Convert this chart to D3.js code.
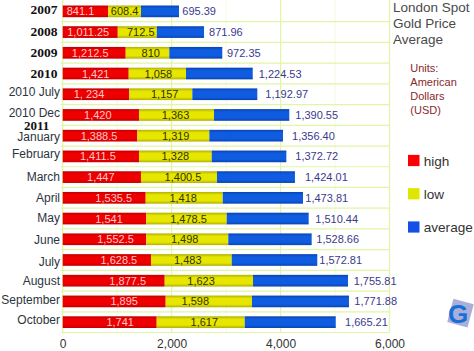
<!DOCTYPE html>
<html>
<head>
<meta charset="utf-8">
<title>London Spot Gold Price Average</title>
<script src="https://d3js.org/d3.v7.min.js"></script>
<style>
  html, body { margin: 0; padding: 0; background: #fff; }
  svg { display: block; }
  text { font-family: "Liberation Sans", Arial, sans-serif; }
</style>
</head>
<body>
<div id="chart"></div>
<script>
var width = 474, height = 351;
var margin = {top: 1, left: 62.7, bottom: 332.5};

var categories = ["2007", "2008", "2009", "2010", "2010 July", "2010 Dec", "January", "February",
  "March", "April", "May", "June", "July", "August", "September", "October"];
var boldCategories = ["2007", "2008", "2009", "2010"];
// bar lengths as drawn in the picture, they do not always agree with the printed labels
var high = [837, 1011, 1157, 1212, 1223, 1401, 1370, 1401, 1437, 1524, 1535, 1535, 1621, 1873, 1891, 1726];
var low = [600, 716, 800, 1052, 1157, 1377, 1322, 1335, 1395, 1414, 1476, 1505, 1482, 1621, 1584, 1616];
var average = [698, 868, 973, 1225, 1193, 1382, 1353, 1370, 1432, 1474, 1505, 1531, 1571, 1744, 1781, 1671];
var highLabels = ["841.1", "1,011.25", "1,212.5", "1,421", "1, 234", "1,420", "1,388.5", "1,411.5", "1,447", "1,535.5", "1,541", "1,552.5", "1,628.5", "1,877.5", "1,895", "1,741"];
var lowLabels = ["608.4", "712.5", "810", "1,058", "1,157", "1,363", "1,319", "1,328", "1,400.5", "1,418", "1,478.5", "1,498", "1,483", "1,623", "1,598", "1,617"];
var averageLabels = ["695.39", "871.96", "972.35", "1,224.53", "1,192.97", "1,390.55", "1,356.40", "1,372.72", "1,424.01", "1,473.81", "1,510.44", "1,528.66", "1,572.81", "1,755.81", "1,771.88", "1,665.21"];
var xTicks = [0, 2000, 4000, 6000];
var titleLines = ["London Spot", "Gold Price", "Average"];
var unitLines = ["Units:", "American", "Dollars", "(USD)"];
var legendNames = ["high", "low", "average"];

var svg = d3.select("#chart").append("svg")
  .attr("width", width)
  .attr("height", height);

var x = d3.scaleLinear().domain([0, 6000]).range([margin.left, 389.5]);
var y = d3.scaleBand().domain(categories).range([margin.top, margin.bottom]);
var bh = 11.7;

// bar gradients, edges a bit darker like the original
var defs = svg.append("defs");
function gradient(id, edge, mid) {
  var g = defs.append("linearGradient").attr("id", id).attr("x1", 0).attr("x2", 0).attr("y1", 0).attr("y2", 1);
  g.append("stop").attr("offset", "0").attr("stop-color", edge);
  g.append("stop").attr("offset", "0.25").attr("stop-color", mid);
  g.append("stop").attr("offset", "0.75").attr("stop-color", mid);
  g.append("stop").attr("offset", "1").attr("stop-color", edge);
}
gradient("g-high", "#c40000", "#ee0000");
gradient("g-low", "#b0b000", "#e6e600");
gradient("g-average", "#0a44b0", "#0f5ce0");

// grid
var gridColor = "#e2f5a6";
svg.append("g").selectAll("line")
  .data(xTicks.concat([1000, 3000, 5000]))
  .enter().append("line")
  .attr("x1", d => x(d)).attr("x2", d => x(d))
  .attr("y1", 0).attr("y2", margin.bottom)
  .attr("stroke", d => d % 2000 == 0 ? gridColor : "#f3fae0")
  .attr("stroke-width", d => d % 2000 == 0 ? 1.2 : 1);
svg.append("g").selectAll("line")
  .data(categories)
  .enter().append("line")
  .attr("x1", margin.left - 2).attr("x2", x(6000))
  .attr("y1", d => y(d) + y.bandwidth()).attr("y2", d => y(d) + y.bandwidth())
  .attr("stroke", gridColor)
  .attr("stroke-width", 1.2);

// stacked bars
var rows = categories.map(function(c, i) {
  return {cat: c, i: i, high: high[i], low: low[i], average: average[i]};
});
var stack = d3.stack().keys(legendNames)(rows);
var barY = d => y(d.data.cat) + (y.bandwidth() - bh) / 2;

svg.append("g").selectAll("g")
  .data(stack)
  .enter().append("g")
  .attr("fill", d => "url(#g-" + d.key + ")")
  .selectAll("rect")
  .data(d => d)
  .enter().append("rect")
  .attr("x", d => x(d[0]))
  .attr("y", barY)
  .attr("width", d => x(d[1]) - x(d[0]))
  .attr("height", bh);

// the labels were hand placed in the original, so each gets a small nudge
var highNudge = [-5, -2, -4, 0, -7, -3, -1, -3, -1, 9.5, 4.5, 11, 12, 14, 10, 10.5];
var lowNudge = [0, 3.5, 3.3, 1, 3.9, -1, 2.4, 0, 4, -1, 2, -2.6, -3.6, -7.8, -13.5, 3.6];
var averageGap = [3.3, 5, 4.7, 6, 8, 6, 9, 9, 10, 2.3, 6.6, 4.6, 2, 5.7, 5.3, 9.3];
var categoryNudge = [-1, 0, 0, 0, -2, -2, 1.5, -2, 0, 0.5, -0.5, 1, 2, 0.7, -1, -2];

svg.append("g").selectAll("text")
  .data(stack[0])
  .enter().append("text")
  .attr("x", d => (x(d[0]) + x(d[1])) / 2 + highNudge[d.data.i])
  .attr("y", d => y(d.data.cat) + y.bandwidth() / 2 + 4)
  .attr("text-anchor", "middle")
  .attr("font-size", 11)
  .attr("fill", "#ffc8c8")
  .text(d => highLabels[d.data.i]);

svg.append("g").selectAll("text")
  .data(stack[1])
  .enter().append("text")
  .attr("x", d => (x(d[0]) + x(d[1])) / 2 + lowNudge[d.data.i])
  .attr("y", d => y(d.data.cat) + y.bandwidth() / 2 + 4)
  .attr("text-anchor", "middle")
  .attr("font-size", 11)
  .attr("fill", "#333300")
  .text(d => lowLabels[d.data.i]);

svg.append("g").selectAll("text")
  .data(stack[2])
  .enter().append("text")
  .attr("x", d => x(d[1]) + averageGap[d.data.i])
  .attr("y", d => y(d.data.cat) + y.bandwidth() / 2 + 4)
  .attr("font-size", 11)
  .attr("fill", "#3a3a8c")
  .text(d => averageLabels[d.data.i]);

// category labels
var isBold = d => boldCategories.indexOf(d) >= 0;
svg.append("g").selectAll("text")
  .data(categories)
  .enter().append("text")
  .attr("x", d => isBold(d) ? 57.5 : 60)
  .attr("y", (d, i) => y(d) + y.bandwidth() / 2 + 4 + categoryNudge[i])
  .attr("text-anchor", "end")
  .attr("font-size", d => isBold(d) ? 13.5 : 12)
  .attr("font-weight", d => isBold(d) ? "bold" : "normal")
  .style("font-family", d => isBold(d) ? "'Liberation Serif', serif" : null)
  .attr("fill", d => isBold(d) ? "#111" : "#2c3440")
  .text(d => d);

svg.append("text")
  .attr("x", 24).attr("y", 130)
  .attr("font-size", 13).attr("font-weight", "bold")
  .style("font-family", "'Liberation Serif', serif")
  .attr("fill", "#111")
  .text("2011");

// x axis
var xAxis = d3.axisBottom(x).tickValues(xTicks).tickSize(0).tickFormat(d3.format(","));
svg.append("g")
  .attr("transform", "translate(0," + 336.6 + ")")
  .call(xAxis)
  .call(g => g.select(".domain").remove())
  .call(g => g.selectAll("text").attr("font-size", 12).attr("fill", "#333")
    .style("font-family", "'Liberation Sans', Arial, sans-serif"));

// title and units
svg.append("g").selectAll("text")
  .data(titleLines)
  .enter().append("text")
  .attr("x", 393)
  .attr("y", (d, i) => 12 + i * 16)
  .attr("font-size", 13.5)
  .attr("fill", "#4a4a4a")
  .text(d => d);

svg.append("g").selectAll("text")
  .data(unitLines)
  .enter().append("text")
  .attr("x", 410.3)
  .attr("y", (d, i) => 72 + i * 14)
  .attr("font-size", 11)
  .attr("fill", "#8a2a2a")
  .text(d => d);

// legend
var legendColor = d3.scaleOrdinal().domain(legendNames).range(["#ff0000", "#dfe600", "#1450e8"]);
var legendY = d3.scalePoint().domain(legendNames).range([160.5, 227]);
var lg = svg.append("g").selectAll("g")
  .data(legendNames)
  .enter().append("g")
  .attr("transform", d => "translate(408," + legendY(d) + ")");
lg.append("rect").attr("y", -5.6).attr("width", 11.5).attr("height", 11.2).attr("fill", d => legendColor(d));
lg.append("text").attr("x", 15.7).attr("y", 5).attr("font-size", 13.6).attr("fill", "#333").text(d => d);

// site logo, bottom right
var logo = svg.append("g").attr("transform", "translate(460,313)");
logo.append("rect").attr("x", -10).attr("y", -12).attr("width", 21).attr("height", 24)
  .attr("transform", "rotate(15)").attr("fill", "#a9afd8");
logo.append("text").attr("text-anchor", "middle").attr("x", -2).attr("y", 10).attr("font-size", 26)
  .attr("font-weight", "bold").attr("fill", "#1670d8").text("G");
</script>
</body>
</html>
